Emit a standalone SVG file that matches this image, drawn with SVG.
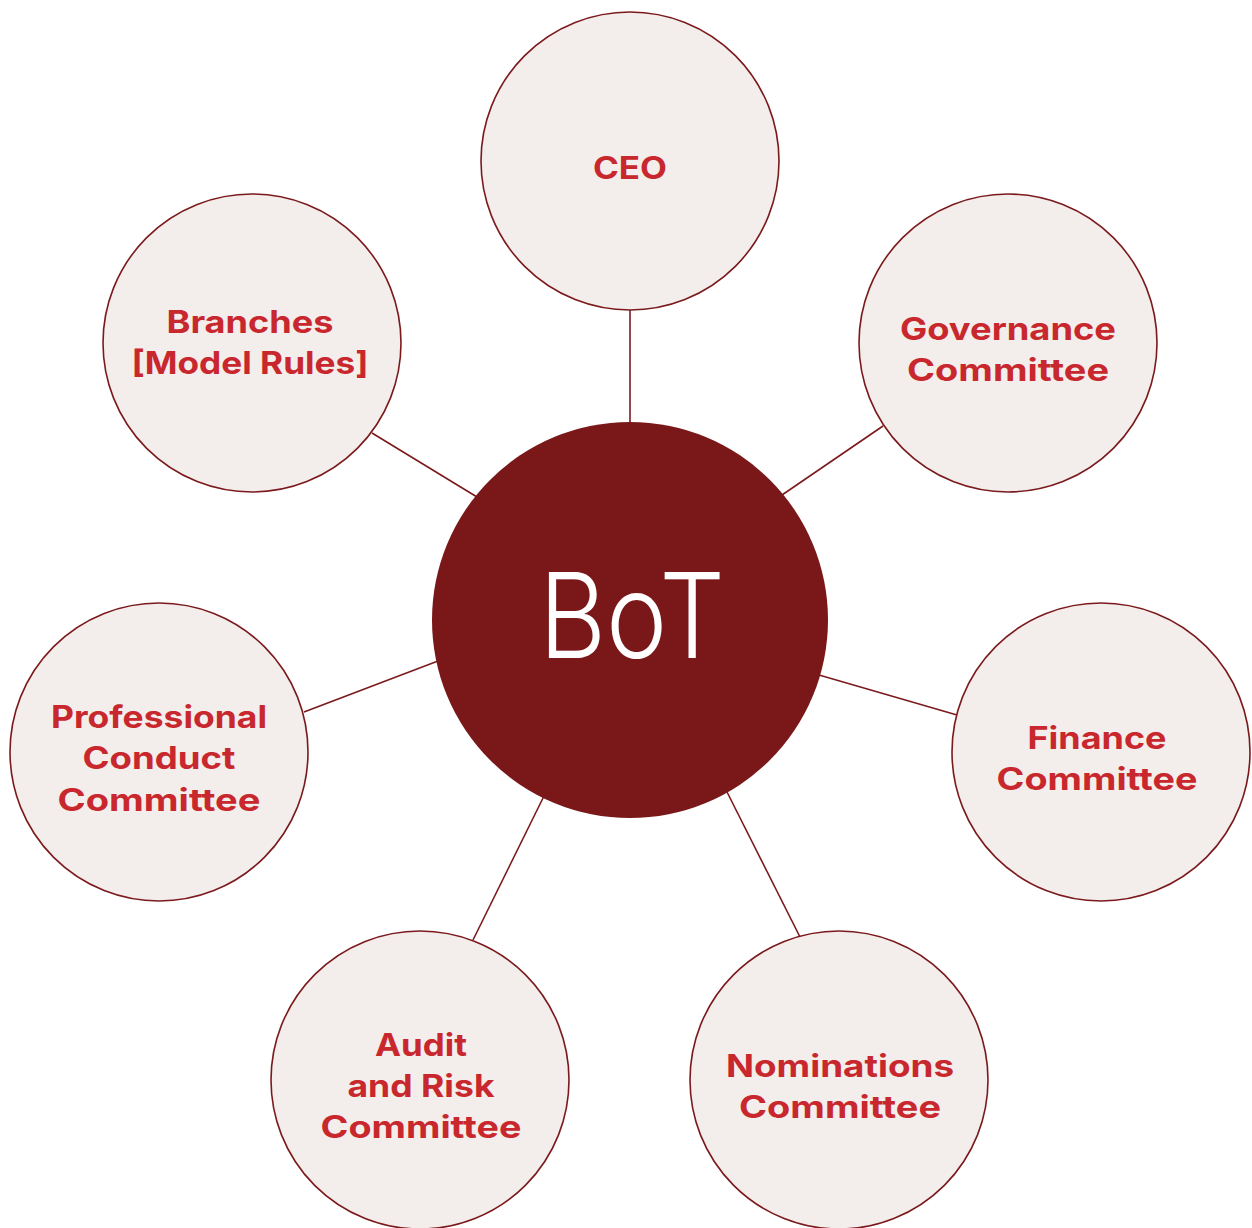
<svg xmlns="http://www.w3.org/2000/svg" width="1252" height="1228" viewBox="0 0 1252 1228">
<style>
.bg{fill:#ffffff}
.node{fill:#f3edeb;stroke:#7b1a1c;stroke-width:1.6}
.hub{fill:#7a1719}
.lbl{font-family:Inter,"Liberation Sans",sans-serif;font-weight:700;font-size:31px;fill:#c8282d;text-anchor:middle}
.hubt{font-family:Inter,"Liberation Sans",sans-serif;font-weight:300;font-size:118px;fill:#ffffff;text-anchor:middle}
.conn line{stroke:#7b1a1c;stroke-width:1.6}
</style>
<rect class="bg" x="0" y="0" width="1252" height="1228"/>
<g id="connectors" class="conn">
<line x1="630" y1="310" x2="630" y2="425"/>
<line x1="883" y1="426" x2="782" y2="495"/>
<line x1="372" y1="433" x2="477" y2="497"/>
<line x1="304" y1="712" x2="438" y2="661"/>
<line x1="957" y1="715" x2="819" y2="675"/>
<line x1="473" y1="940" x2="544" y2="796"/>
<line x1="800" y1="937" x2="727" y2="792"/>
</g>
<g id="bot">
<circle class="hub" cx="630" cy="620" r="198"/>
<text class="hubt" x="632" y="658" textLength="186" lengthAdjust="spacingAndGlyphs">BoT</text>
</g>
<g id="ceo">
<circle class="node" cx="630" cy="161" r="149"/>
<text class="lbl" x="630" y="179" textLength="74" lengthAdjust="spacingAndGlyphs">CEO</text>
</g>
<g id="governance">
<circle class="node" cx="1008" cy="343" r="149"/>
<text class="lbl" x="1008" y="340" textLength="216" lengthAdjust="spacingAndGlyphs">Governance</text>
<text class="lbl" x="1008" y="381" textLength="202" lengthAdjust="spacingAndGlyphs">Committee</text>
</g>
<g id="branches">
<circle class="node" cx="252" cy="343" r="149"/>
<text class="lbl" x="250" y="333" textLength="167" lengthAdjust="spacingAndGlyphs">Branches</text>
<text class="lbl" x="250" y="374" textLength="237" lengthAdjust="spacingAndGlyphs">[Model Rules]</text>
</g>
<g id="professional">
<circle class="node" cx="159" cy="752" r="149"/>
<text class="lbl" x="159" y="728" textLength="216" lengthAdjust="spacingAndGlyphs">Professional</text>
<text class="lbl" x="159" y="769" textLength="153" lengthAdjust="spacingAndGlyphs">Conduct</text>
<text class="lbl" x="159" y="811" textLength="203" lengthAdjust="spacingAndGlyphs">Committee</text>
</g>
<g id="finance">
<circle class="node" cx="1101" cy="752" r="149"/>
<text class="lbl" x="1097" y="749" textLength="139" lengthAdjust="spacingAndGlyphs">Finance</text>
<text class="lbl" x="1097" y="790" textLength="201" lengthAdjust="spacingAndGlyphs">Committee</text>
</g>
<g id="audit">
<circle class="node" cx="420" cy="1080" r="149"/>
<text class="lbl" x="421" y="1056" textLength="92" lengthAdjust="spacingAndGlyphs">Audit</text>
<text class="lbl" x="421" y="1097" textLength="147" lengthAdjust="spacingAndGlyphs">and Risk</text>
<text class="lbl" x="421" y="1138" textLength="201" lengthAdjust="spacingAndGlyphs">Committee</text>
</g>
<g id="nominations">
<circle class="node" cx="839" cy="1080" r="149"/>
<text class="lbl" x="840" y="1077" textLength="228" lengthAdjust="spacingAndGlyphs">Nominations</text>
<text class="lbl" x="840" y="1118" textLength="202" lengthAdjust="spacingAndGlyphs">Committee</text>
</g>
</svg>
